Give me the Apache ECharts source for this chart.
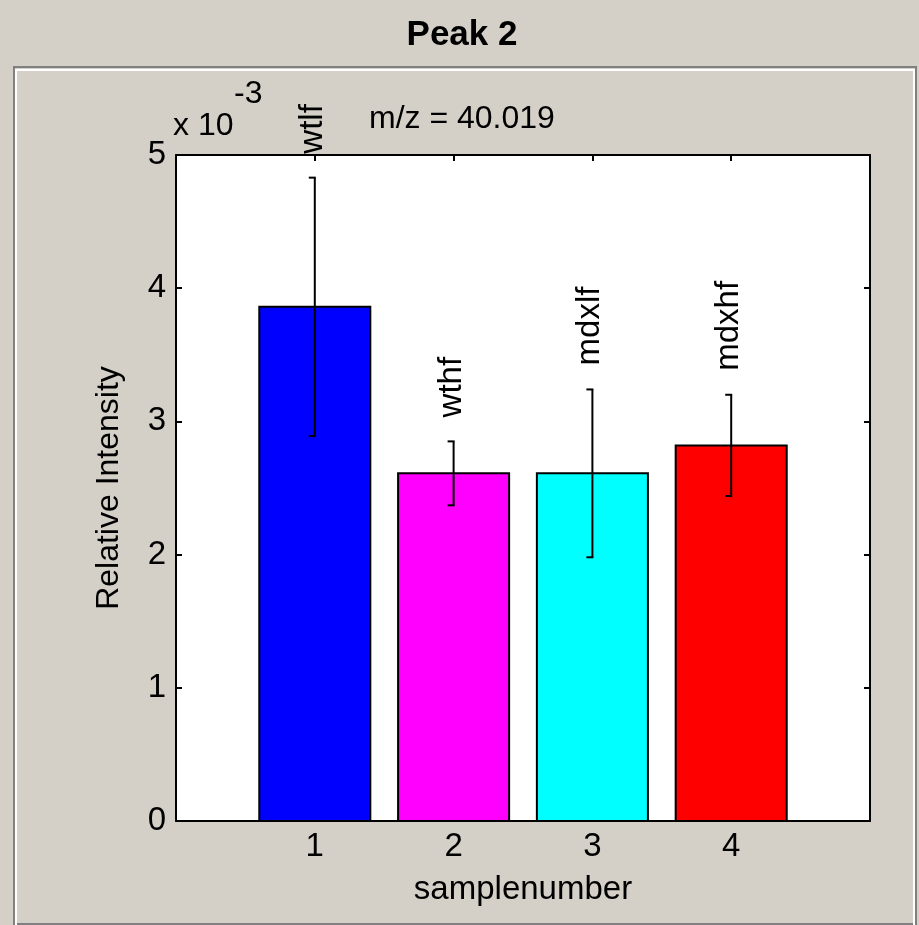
<!DOCTYPE html>
<html><head><meta charset="utf-8">
<script src="https://cdn.jsdelivr.net/npm/echarts@6/dist/echarts.min.js"></script>
<style>html,body{margin:0;padding:0;background:#d4d0c8;}#c{width:919px;height:925px;}</style>
</head><body><div id="c"></div>
<script>
// Data (intensity values in units of 10^-3)
const labels = ['wtlf', 'wthf', 'mdxlf', 'mdxhf'];
const sampleNumbers = [1, 2, 3, 4];
const meanIntensity = [3.86, 2.61, 2.61, 2.82];
const errorHalf = [0.97, 0.24, 0.63, 0.38];
const yTicks = [0, 1, 2, 3, 4, 5];
const xTicks = [1, 2, 3, 4];
const titleText = 'Peak 2';
const mzText = 'm/z = 40.019';

const barColors = ['#0000ff', '#ff00ff', '#00ffff', '#ff0000'];
const FONT = '"Liberation Sans", Arial, sans-serif';
const FS = 33;

const chart = echarts.init(document.getElementById('c'), null, {renderer: 'canvas'});

const axisLine = {show: true, onZero: false, lineStyle: {color: '#000', width: 2}};
const axisTick = {show: true, inside: true, length: 6, lineStyle: {color: '#000', width: 2}};

const option = {
  backgroundColor: '#d4d0c8',
  animation: false,
  graphic: [
    {type: 'rect', z: -10, shape: {x: 14, y: 67, width: 902, height: 857}, style: {fill: 'none', stroke: '#808080', lineWidth: 2}},
    {type: 'rect', z: -9, shape: {x: 16, y: 70, width: 898, height: 860}, style: {fill: 'none', stroke: '#ffffff', lineWidth: 2}},
    {type: 'text', x: 462, y: 35, style: {text: titleText, font: 'bold 35px ' + FONT, fill: '#000', align: 'center', verticalAlign: 'middle'}},
    {type: 'text', x: 173, y: 126, style: {text: 'x 10', font: '32px ' + FONT, fill: '#000', align: 'left', verticalAlign: 'middle'}},
    {type: 'text', x: 234, y: 94, style: {text: '-3', font: '32px ' + FONT, fill: '#000', align: 'left', verticalAlign: 'middle'}},
    {type: 'text', x: 369, y: 119, style: {text: mzText, font: '32px ' + FONT, fill: '#000', align: 'left', verticalAlign: 'middle'}}
  ],
  grid: {left: 176, top: 155, width: 694, height: 666, show: true, backgroundColor: '#ffffff', borderWidth: 0, containLabel: false},
  xAxis: [
    {type: 'value', position: 'bottom', min: 0, max: 5, interval: 1,
     axisLine: axisLine, axisTick: axisTick, splitLine: {show: false},
     axisLabel: {margin: 9, color: '#000', fontFamily: FONT, fontSize: FS,
       formatter: v => xTicks.includes(v) ? String(v) : ''},
     name: 'samplenumber', nameLocation: 'middle', nameGap: 52,
     nameTextStyle: {color: '#000', fontFamily: FONT, fontSize: FS}},
    {type: 'value', position: 'top', min: 0, max: 5, interval: 1,
     axisLine: axisLine, axisTick: axisTick, splitLine: {show: false}, axisLabel: {show: false}}
  ],
  yAxis: [
    {type: 'value', position: 'left', min: 0, max: 5, interval: 1,
     axisLine: axisLine, axisTick: axisTick, splitLine: {show: false},
     axisLabel: {margin: 10, color: '#000', fontFamily: FONT, fontSize: FS,
       formatter: v => yTicks.includes(v) ? String(v) : ''},
     name: 'Relative Intensity', nameLocation: 'middle', nameGap: 51, nameRotate: 90,
     nameTextStyle: {color: '#000', fontFamily: FONT, fontSize: 32}},
    {type: 'value', position: 'right', min: 0, max: 5, interval: 1,
     axisLine: axisLine, axisTick: axisTick, splitLine: {show: false}, axisLabel: {show: false}}
  ],
  series: [
    {
      type: 'custom', name: 'bars', xAxisIndex: 0, yAxisIndex: 0, z: 2,
      data: sampleNumbers.map((s, i) => [s, meanIntensity[i]]),
      renderItem: (params, api) => {
        const x = api.value(0), y = api.value(1);
        const p0 = api.coord([x - 0.4, 0]);
        const p1 = api.coord([x + 0.4, y]);
        return {type: 'rect',
          shape: {x: p0[0], y: p1[1], width: p1[0] - p0[0], height: p0[1] - p1[1]},
          style: {fill: barColors[params.dataIndex], stroke: '#000', lineWidth: 2}};
      }
    },
    {
      type: 'custom', name: 'errors', xAxisIndex: 0, yAxisIndex: 0, z: 3, clip: false,
      data: sampleNumbers.map((s, i) => [s, meanIntensity[i], errorHalf[i]]),
      renderItem: (params, api) => {
        const x = api.value(0), m = api.value(1), e = api.value(2);
        const top = api.coord([x, m + e]);
        const bot = api.coord([x, m - e]);
        const st = {stroke: '#000', lineWidth: 2, fill: 'none'};
        return {type: 'group', children: [
          {type: 'line', shape: {x1: top[0], y1: top[1], x2: bot[0], y2: bot[1]}, style: st},
          {type: 'line', shape: {x1: top[0] - 6, y1: top[1], x2: top[0] + 1, y2: top[1]}, style: st},
          {type: 'line', shape: {x1: bot[0] - 6, y1: bot[1], x2: bot[0] + 1, y2: bot[1]}, style: st}
        ]};
      }
    },
    {
      type: 'custom', name: 'labels', xAxisIndex: 0, yAxisIndex: 0, z: 4, clip: false,
      data: sampleNumbers.map((s, i) => [s, meanIntensity[i] + errorHalf[i]]),
      renderItem: (params, api) => {
        const x = api.value(0), t = api.value(1);
        const p = api.coord([x, t]);
        return {type: 'text', x: p[0] - 2, y: p[1] - 24, rotation: Math.PI / 2,
          style: {text: labels[params.dataIndex], x: 0, y: 0, align: 'left', verticalAlign: 'middle',
            font: FS + 'px ' + FONT, fill: '#000'}};
      }
    }
  ]
};
chart.setOption(option);
</script>
</body></html>
